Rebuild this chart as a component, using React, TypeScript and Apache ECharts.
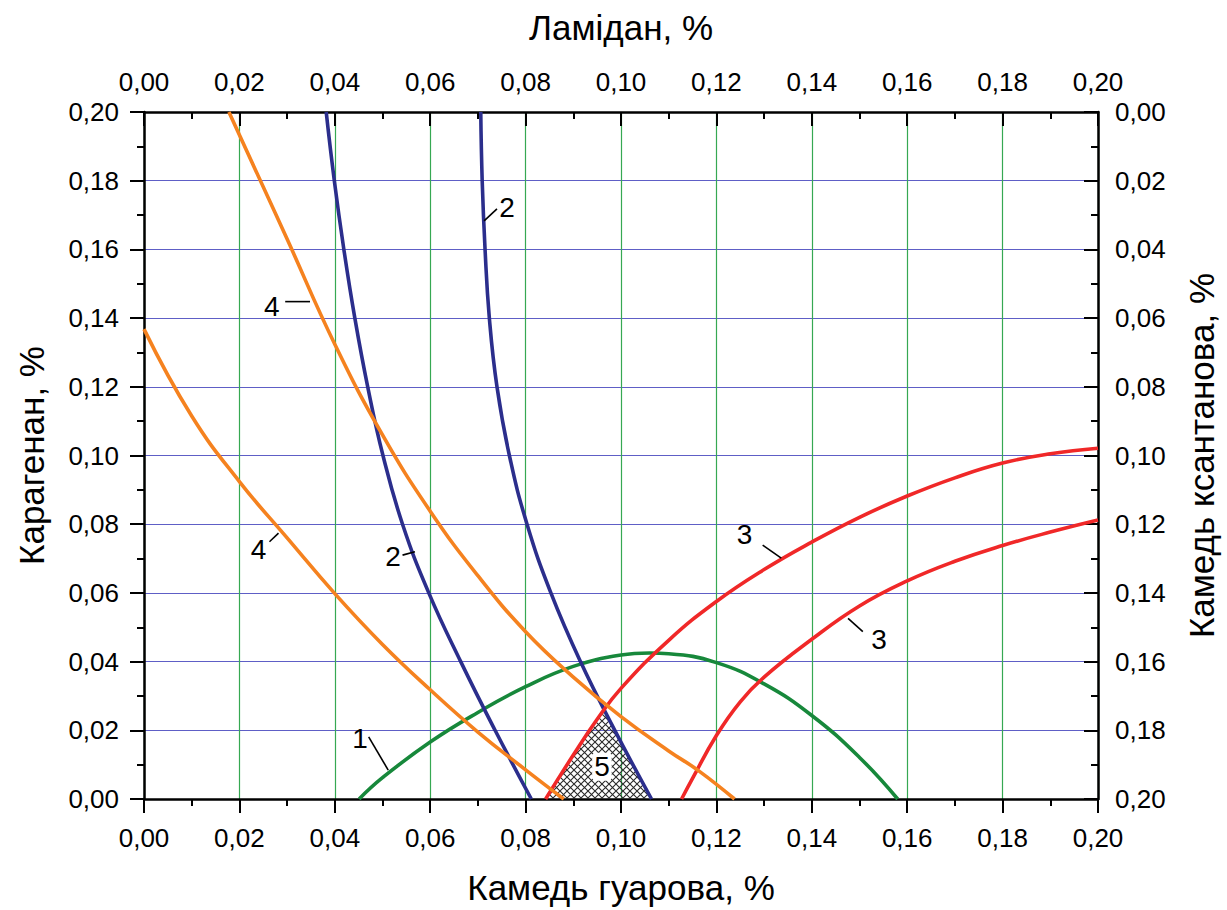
import { useEffect, useRef } from "react";
import * as echarts from "echarts";

// Axis range shared by all four axes (%)
const AXIS_MIN = 0;
const AXIS_MAX = 0.2;
const AXIS_STEP = 0.02;

// Curve 1: guar gum (x) vs carrageenan (y)
const curve1: [number, number][] = [
  [0.0451, 0], [0.05, 0.0062], [0.06, 0.0166], [0.07, 0.0252], [0.08, 0.0327],
  [0.09, 0.0386], [0.1, 0.0419], [0.106, 0.0425], [0.11, 0.0423], [0.12, 0.0397],
  [0.13, 0.0335], [0.14, 0.0243], [0.15, 0.0121], [0.158, 0],
];

// Curves 2: guar gum (x) vs carrageenan (y)
const curve2a: [number, number][] = [
  [0.0382, 0.2], [0.0399, 0.18], [0.0419, 0.16], [0.0442, 0.14], [0.0469, 0.12],
  [0.0501, 0.1], [0.0542, 0.08], [0.0597, 0.06], [0.0664, 0.04], [0.0736, 0.02],
  [0.0812, 0],
];
const curve2b: [number, number][] = [
  [0.0706, 0.2], [0.0709, 0.18], [0.0715, 0.16], [0.0724, 0.14], [0.074, 0.12],
  [0.0766, 0.1], [0.0803, 0.08], [0.0853, 0.06], [0.0915, 0.04], [0.0987, 0.02],
  [0.1064, 0],
];

// Curves 3: lamidan (top x) vs xanthan gum (right y, inverted)
const curve3a: [number, number][] = [
  [0.0842, 0.2], [0.09, 0.1872], [0.095, 0.1768], [0.1, 0.1678], [0.11, 0.1538],
  [0.12, 0.1425], [0.13, 0.1332], [0.14, 0.1252], [0.15, 0.118], [0.16, 0.1118],
  [0.17, 0.1065], [0.18, 0.1022], [0.19, 0.0995], [0.2, 0.0979],
];
const curve3b: [number, number][] = [
  [0.1127, 0.2], [0.115, 0.194], [0.12, 0.1815], [0.125, 0.1717], [0.13, 0.1645],
  [0.14, 0.1535], [0.15, 0.1438], [0.16, 0.1365], [0.17, 0.1308], [0.18, 0.1262],
  [0.19, 0.1223], [0.2, 0.1188],
];

// Curves 4: guar gum (x) vs carrageenan (y)
const curve4a: [number, number][] = [
  [0.0178, 0.2], [0.03, 0.163], [0.04, 0.1324], [0.05, 0.106], [0.06, 0.0838],
  [0.07, 0.065], [0.08, 0.0487], [0.09, 0.0355], [0.1, 0.024], [0.11, 0.014],
  [0.1163, 0.0082], [0.1238, 0],
];
const curve4b: [number, number][] = [
  [0, 0.1368], [0.01, 0.1115], [0.02, 0.0924], [0.03, 0.076], [0.04, 0.0598],
  [0.05, 0.045], [0.06, 0.0318], [0.07, 0.0195], [0.08, 0.0085], [0.088, 0],
];

// Region 5: area bounded by curve 3 (left), curve 2 (right) and the x axis
const region5: [number, number][] = [
  [0.0842, 0], [0.09, 0.0128], [0.095, 0.0232], [0.0965, 0.026], [0.0987, 0.02], [0.1064, 0],
];

// Curve number labels with their leader lines (guar / carrageenan coordinates)
const curveLabels = [
  { text: "1", at: [0.0453, 0.0177], from: [0.0471, 0.0181], to: [0.0512, 0.0084] },
  { text: "2", at: [0.0761, 0.1721], from: [0.0713, 0.1683], to: [0.074, 0.1718] },
  { text: "2", at: [0.0522, 0.0705], from: [0.0542, 0.071], to: [0.0568, 0.072] },
  { text: "3", at: [0.1259, 0.0769], from: [0.1297, 0.0739], to: [0.1336, 0.0701] },
  { text: "3", at: [0.1541, 0.0463], from: [0.1476, 0.0526], to: [0.1507, 0.0487] },
  { text: "4", at: [0.0268, 0.1435], from: [0.0296, 0.1448], to: [0.0348, 0.1448] },
  { text: "4", at: [0.024, 0.0725], from: [0.0263, 0.0749], to: [0.0282, 0.0774] },
];
const regionLabel = { text: "5", at: [0.096, 0.0094] };

const COLORS = {
  green: "#17883b",
  navy: "#2b2e8c",
  red: "#f02828",
  orange: "#f5821f",
  gridGreen: "#36a852",
  gridBlue: "#5e5ec6",
};

const FONT = "Liberation Sans, Arial, sans-serif";
const fmt = (v: number) => v.toFixed(2).replace(".", ",");

const hatchSvg =
  "data:image/svg+xml;charset=utf-8," +
  encodeURIComponent(
    "<svg xmlns='http://www.w3.org/2000/svg' width='7' height='7'>" +
      "<path d='M-1 -1L8 8M8 -1L-1 8' stroke='#2a2a2a' stroke-width='1.1' fill='none'/></svg>"
  );

function axisCommon(tickInside: boolean, labelMargin: number) {
  return {
    type: "value" as const,
    min: AXIS_MIN,
    max: AXIS_MAX,
    interval: AXIS_STEP,
    axisLine: { show: true, onZero: false, lineStyle: { color: "#000", width: 2.5 } },
    axisTick: { show: true, inside: tickInside, length: 14, lineStyle: { color: "#000", width: 2 } },
    minorTick: { show: true, splitNumber: 2, length: 7, lineStyle: { color: "#000", width: 2 } },
    axisLabel: { formatter: fmt, color: "#000", fontSize: 26, fontFamily: FONT, margin: labelMargin },
    nameLocation: "middle" as const,
    nameTextStyle: { color: "#000", fontSize: 35, fontFamily: FONT },
  };
}

function lineSeries(
  name: string,
  data: [number, number][],
  color: string,
  xAxisIndex = 0,
  yAxisIndex = 0
) {
  return {
    type: "line" as const,
    name,
    data,
    xAxisIndex,
    yAxisIndex,
    smooth: 0.45,
    showSymbol: false,
    symbol: "none",
    lineStyle: { color, width: 3.6 },
    z: 3,
  };
}

export default function App() {
  const ref = useRef<HTMLDivElement>(null);

  useEffect(() => {
    if (!ref.current) return;
    const chart = echarts.init(ref.current, null, { renderer: "svg" });

    chart.setOption({
      animation: false,
      backgroundColor: "#fff",
      grid: { left: 144, right: 126, top: 112, bottom: 111, containLabel: false },
      xAxis: [
        {
          ...axisCommon(false, 26),
          position: "bottom",
          name: "Камедь гуарова, %",
          nameGap: 71,
          splitLine: { show: true, lineStyle: { color: COLORS.gridGreen, width: 1.2 } },
        },
        {
          ...axisCommon(true, 17),
          position: "top",
          name: "Ламідан, %",
          nameGap: 67,
          splitLine: { show: false },
        },
      ],
      yAxis: [
        {
          ...axisCommon(false, 25),
          position: "left",
          name: "Карагенан, %",
          nameGap: 95,
          nameRotate: 90,
          splitLine: { show: true, lineStyle: { color: COLORS.gridBlue, width: 1.2 } },
        },
        {
          ...axisCommon(true, 17),
          position: "right",
          inverse: true,
          name: "Камедь ксантанова, %",
          nameGap: 86,
          nameRotate: 90,
          splitLine: { show: false },
        },
      ],
      series: [
        {
          type: "custom",
          name: "5",
          data: [region5[0]],
          z: 2,
          silent: true,
          renderItem: (_params: any, api: any) => ({
            type: "polygon",
            shape: { points: region5.map((p) => api.coord(p)) },
            style: {
              fill: { image: hatchSvg, repeat: "repeat", imageWidth: 7, imageHeight: 7 },
              stroke: "none",
            },
          }),
        },
        lineSeries("1", curve1, COLORS.green),
        lineSeries("2a", curve2a, COLORS.navy),
        lineSeries("2b", curve2b, COLORS.navy),
        lineSeries("3a", curve3a, COLORS.red, 1, 1),
        lineSeries("3b", curve3b, COLORS.red, 1, 1),
        lineSeries("4a", curve4a, COLORS.orange),
        lineSeries("4b", curve4b, COLORS.orange),
        {
          type: "custom",
          name: "labels",
          data: curveLabels.map((l) => l.at),
          z: 4,
          silent: true,
          renderItem: (params: any, api: any) => {
            const l = curveLabels[params.dataIndex];
            const p = api.coord(l.at);
            const a = api.coord(l.from);
            const b = api.coord(l.to);
            return {
              type: "group",
              children: [
                {
                  type: "line",
                  shape: { x1: a[0], y1: a[1], x2: b[0], y2: b[1] },
                  style: { stroke: "#000", lineWidth: 1.6 },
                },
                {
                  type: "text",
                  style: {
                    text: l.text,
                    x: p[0],
                    y: p[1],
                    align: "center",
                    verticalAlign: "middle",
                    fill: "#000",
                    font: `28px ${FONT}`,
                  },
                },
              ],
            };
          },
        },
        {
          type: "custom",
          name: "regionLabel",
          data: [regionLabel.at],
          z: 4,
          silent: true,
          renderItem: (_params: any, api: any) => {
            const p = api.coord(regionLabel.at);
            return {
              type: "text",
              style: {
                text: regionLabel.text,
                x: p[0],
                y: p[1],
                align: "center",
                verticalAlign: "middle",
                fill: "#000",
                font: `28px ${FONT}`,
                backgroundColor: "#fff",
                padding: [0, 2],
                borderRadius: 4,
              },
            };
          },
        },
      ],
    });

    return () => chart.dispose();
  }, []);

  return (
    <div
      ref={ref}
      style={{ position: "fixed", left: 0, top: 0, width: 1227, height: 910, background: "#fff" }}
    />
  );
}
